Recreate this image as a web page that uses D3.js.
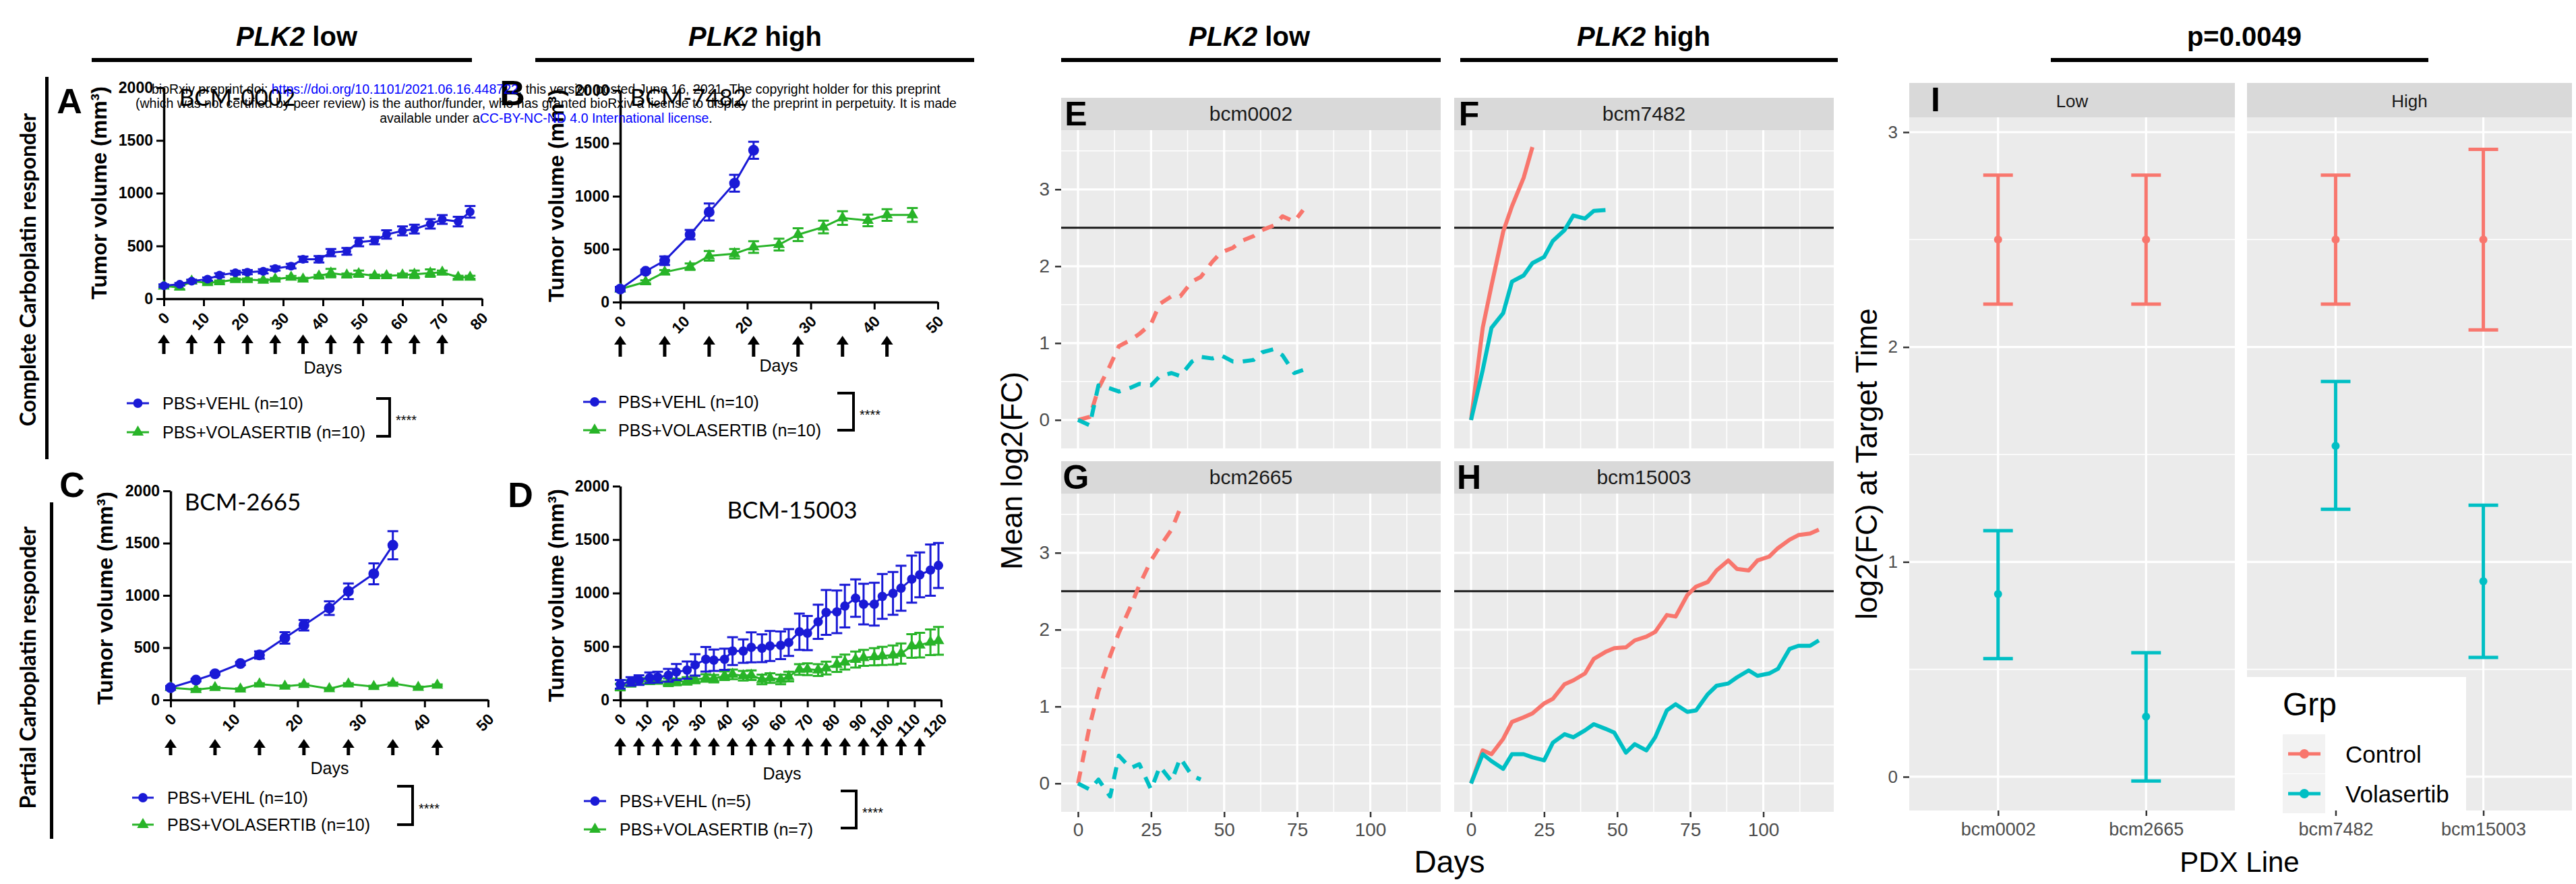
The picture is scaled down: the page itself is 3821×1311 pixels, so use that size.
<!DOCTYPE html>
<html>
<head>
<meta charset="utf-8">
<script src="https://cdn.jsdelivr.net/npm/d3@7"></script>
<style>
  body { margin: 0; background: #fff; }
  svg { display: block; }
</style>
</head>
<body>
<script>
// ---- tumour volume panels (GraphPad style) ----
const volumeTicks = [0, 500, 1000, 1500, 2000];

// A: BCM-0002
const daysA = [0, 4, 7, 11, 14, 18, 21, 25, 28, 32, 35, 39, 42, 46, 49, 53, 56, 60, 63, 67, 70, 74, 77];
const vehA = [123, 137, 166, 186, 223, 246, 251, 260, 286, 309, 374, 374, 437, 449, 537, 551, 609, 643, 660, 709, 751, 731, 823];
const vehAErr = [12, 12, 14, 15, 18, 18, 20, 20, 20, 22, 25, 30, 35, 32, 40, 35, 40, 42, 42, 45, 42, 45, 55];
const volA = [118, 109, 166, 151, 160, 180, 180, 174, 186, 203, 186, 214, 243, 223, 237, 217, 217, 223, 231, 243, 251, 203, 203];
const volAErr = [10, 20, 10, 12, 12, 10, 12, 10, 10, 12, 12, 12, 40, 15, 30, 12, 12, 15, 35, 35, 15, 15, 15];
const doseA = [0, 7, 14, 21, 28, 35, 42, 49, 56, 63, 70];

// B: BCM-7482
const daysBVeh = [0, 4, 7, 11, 14, 18, 21];
const vehB = [123, 291, 391, 637, 851, 1123, 1434];
const vehBErr = [20, 15, 40, 45, 80, 80, 80];
const daysBVol = [0, 4, 7, 11, 14, 18, 21, 25, 28, 32, 35, 39, 42, 46];
const volB = [123, 191, 283, 334, 437, 457, 520, 543, 637, 709, 794, 771, 823, 823];
const volBErr = [20, 15, 20, 30, 45, 45, 55, 55, 60, 60, 65, 55, 55, 65];
const doseB = [0, 7, 14, 21, 28, 35, 42];

// C: BCM-2665
const daysCVeh = [0, 4, 7, 11, 14, 18, 21, 25, 28, 32, 35];
const vehC = [117, 190, 250, 348, 430, 593, 715, 878, 1039, 1207, 1480];
const vehCErr = [15, 12, 12, 15, 35, 55, 50, 65, 75, 100, 135];
const daysCVol = [0, 4, 7, 11, 14, 18, 21, 25, 28, 32, 35, 39, 42];
const volC = [117, 98, 117, 103, 152, 130, 147, 106, 152, 128, 158, 120, 141];
const volCErr = [8, 8, 8, 8, 8, 8, 8, 8, 8, 8, 8, 8, 8];
const doseC = [0, 7, 14, 21, 28, 35, 42];

// D: BCM-15003
const daysD = [0, 4, 7, 11, 14, 18, 21, 25, 28, 32, 35, 39, 42, 46, 49, 53, 56, 60, 63, 67, 70, 74, 77, 81, 84, 88, 91, 95, 98, 102, 105, 109, 112, 116, 119];
const vehD = [146, 173, 186, 207, 213, 231, 261, 279, 327, 380, 372, 380, 457, 457, 492, 484, 505, 511, 537, 638, 625, 731, 819, 824, 878, 952, 896, 896, 968, 997, 1045, 1130, 1170, 1215, 1258];
const vehDErr = [40, 40, 45, 50, 50, 60, 75, 80, 100, 115, 100, 100, 130, 110, 140, 130, 140, 130, 125, 170, 160, 160, 210, 200, 200, 175, 190, 200, 210, 200, 210, 220, 210, 240, 210];
const volD = [120, 154, 173, 178, 181, 165, 168, 178, 191, 205, 199, 226, 239, 226, 231, 191, 205, 191, 218, 285, 287, 279, 298, 332, 354, 378, 394, 404, 412, 420, 434, 505, 513, 540, 553];
const volDErr = [30, 30, 30, 30, 30, 35, 30, 35, 35, 35, 35, 40, 45, 45, 45, 45, 45, 45, 45, 50, 55, 55, 60, 70, 70, 75, 75, 80, 85, 90, 95, 110, 115, 120, 130];
const doseD = [0, 7, 14, 21, 28, 35, 42, 49, 56, 63, 70, 77, 84, 91, 98, 105, 112];

// ---- mean log2(FC) panels (ggplot facets) ----
const ctrlE = [0, 0.04, 0.41, 0.71, 0.96, 1.04, 1.12, 1.25, 1.51, 1.61, 1.61, 1.80, 1.86, 2.06, 2.18, 2.24, 2.33, 2.39, 2.47, 2.53, 2.65, 2.58, 2.73];
const volE = [0, -0.07, 0.45, 0.41, 0.37, 0.42, 0.47, 0.45, 0.57, 0.61, 0.57, 0.76, 0.82, 0.80, 0.84, 0.76, 0.76, 0.78, 0.88, 0.92, 0.84, 0.61, 0.65];
const ctrlF = [0, 1.2, 1.75, 2.45, 2.78, 3.15, 3.55];
const volF = [0, 0.65, 1.2, 1.39, 1.8, 1.88, 2.04, 2.12, 2.33, 2.47, 2.66, 2.62, 2.72, 2.73];
const ctrlG = [0, 0.75, 1.2, 1.66, 1.96, 2.3, 2.58, 2.9, 3.08, 3.3, 3.58];
const volG = [0, -0.08, 0.05, -0.17, 0.36, 0.2, 0.25, -0.08, 0.22, 0.03, 0.33, 0.1, 0.05];
const ctrlH = [0, 0.43, 0.38, 0.58, 0.80, 0.86, 0.91, 1.04, 1.10, 1.29, 1.34, 1.43, 1.62, 1.71, 1.76, 1.77, 1.86, 1.91, 1.97, 2.19, 2.17, 2.45, 2.56, 2.62, 2.77, 2.90, 2.79, 2.77, 2.90, 2.95, 3.06, 3.17, 3.23, 3.25, 3.30];
const volH = [0, 0.38, 0.29, 0.19, 0.38, 0.38, 0.34, 0.30, 0.53, 0.64, 0.60, 0.69, 0.77, 0.71, 0.66, 0.40, 0.51, 0.43, 0.60, 0.95, 1.03, 0.93, 0.95, 1.16, 1.27, 1.30, 1.38, 1.47, 1.40, 1.43, 1.49, 1.75, 1.79, 1.79, 1.86];
const dayTicks = [0, 25, 50, 75, 100];
const fcTicks = [0, 1, 2, 3];
const targetFC = 2.5;

// ---- log2(FC) at target time (panel I) ----
const pdxLines = ['bcm0002', 'bcm2665', 'bcm7482', 'bcm15003'];
const plk2Group = ['Low', 'Low', 'High', 'High'];
const ctrlMean = [2.5, 2.5, 2.5, 2.5];
const ctrlLow = [2.2, 2.2, 2.2, 2.08];
const ctrlHigh = [2.8, 2.8, 2.8, 2.92];
const volMean = [0.85, 0.28, 1.54, 0.91];
const volLow = [0.55, -0.02, 1.245, 0.555];
const volHigh = [1.145, 0.577, 1.84, 1.264];
const groupNames = ['Control', 'Volasertib'];

const W = 3821, H = 1311;
const SANS = "'Liberation Sans', Arial, Helvetica, sans-serif";
const CALIBRI = "Lato, 'Open Sans', sans-serif";
const BLUE = '#1a1ad6', GREEN = '#28b428', RED = '#F8766D', CYAN = '#00BFC4';

const svg = d3.select('body').append('svg').attr('width', W).attr('height', H);
svg.append('rect').attr('width', W).attr('height', H).attr('fill', '#fff');

function label(g, x, y, s, size, o = {}) {
  return g.append('text')
    .attr('x', x).attr('y', y)
    .attr('font-family', o.family || SANS)
    .attr('font-size', size)
    .attr('font-weight', o.weight || 'normal')
    .attr('fill', o.fill || '#000')
    .attr('text-anchor', o.anchor || 'middle')
    .attr('dominant-baseline', o.baseline || 'central')
    .attr('transform', o.rotate ? `rotate(${o.rotate},${x},${y})` : null)
    .text(s);
}

// ---- headers ----
function header(cx, italic, rest, x1, x2) {
  const t = svg.append('text').attr('x', cx).attr('y', 54)
    .attr('font-family', SANS).attr('font-size', 40).attr('font-weight', 'bold')
    .attr('text-anchor', 'middle').attr('dominant-baseline', 'central');
  if (italic) t.append('tspan').attr('font-style', 'italic').text(italic);
  t.append('tspan').text(rest);
  svg.append('rect').attr('x', x1).attr('y', 86).attr('width', x2 - x1).attr('height', 6).attr('fill', '#000');
}
header(440, 'PLK2', ' low', 136, 700);
header(1120, 'PLK2', ' high', 794, 1445);
header(1853, 'PLK2', ' low', 1574, 2137);
header(2438, 'PLK2', ' high', 2166, 2726);
header(3329, null, 'p=0.0049', 3042, 3602);

// ---- row labels ----
label(svg, 40, 400, 'Complete Carboplatin responder', 32, { family: CALIBRI, weight: 'bold', rotate: -90 });
svg.append('rect').attr('x', 67).attr('y', 114).attr('width', 5).attr('height', 567).attr('fill', '#000');
label(svg, 40, 990, 'Partial Carboplatin responder', 32, { family: CALIBRI, weight: 'bold', rotate: -90 });
svg.append('rect').attr('x', 74).attr('y', 745).attr('width', 5).attr('height', 499).attr('fill', '#000');

// ---- GraphPad style panel ----
function prismPanel(o) {
  const g = svg.append('g');
  const x = d3.scaleLinear().domain([0, o.xMax]).range([o.left, o.right]);
  const y = d3.scaleLinear().domain([0, 2000]).range([o.bottom, o.top]);
  const xTicks = d3.range(0, o.xMax + 1, 10);

  const yAxis = g.append('g').attr('transform', `translate(${o.left},0)`)
    .call(d3.axisLeft(y).tickValues(volumeTicks).tickFormat(d3.format('d'))
      .tickSize(11).tickSizeOuter(0).tickPadding(5));
  const xAxis = g.append('g').attr('transform', `translate(0,${o.bottom})`)
    .call(d3.axisBottom(x).tickValues(xTicks).tickSize(11).tickSizeOuter(0).tickFormat(''));
  [yAxis, xAxis].forEach(a => {
    a.select('.domain').attr('stroke', '#000').attr('stroke-width', 3.5);
    a.selectAll('.tick line').attr('stroke', '#000').attr('stroke-width', 3);
  });
  yAxis.selectAll('.tick text')
    .attr('font-family', SANS).attr('font-size', 23).attr('font-weight', 'bold').attr('fill', '#000');

  g.selectAll(null).data(xTicks).join('text')
    .attr('transform', d => `translate(${x(d) + 10},${o.bottom + 30}) rotate(-45)`)
    .attr('text-anchor', 'end')
    .attr('font-family', SANS).attr('font-size', 23).attr('font-weight', 'bold')
    .text(d => d);

  // dosing arrows
  g.selectAll(null).data(o.dose).join('path')
    .attr('d', d => {
      const c = x(d), t = o.arrowTop, b = o.arrowBottom;
      return `M${c},${t}L${c + 9},${t + 13}L${c + 2.5},${t + 13}L${c + 2.5},${b}L${c - 2.5},${b}L${c - 2.5},${t + 13}L${c - 9},${t + 13}Z`;
    })
    .attr('fill', '#000');

  function series(days, vals, errs, color, shape) {
    const line = d3.line().x((d, i) => x(days[i])).y(d => y(d));
    g.append('path').datum(vals).attr('d', line)
      .attr('fill', 'none').attr('stroke', color).attr('stroke-width', 3);
    g.append('g').selectAll('path').data(vals).join('path')
      .attr('d', (v, i) => {
        const c = x(days[i]), y1 = y(v + errs[i]), y2 = y(v - errs[i]);
        return `M${c},${y1}V${y2}M${c - 8},${y1}H${c + 8}M${c - 8},${y2}H${c + 8}`;
      })
      .attr('fill', 'none').attr('stroke', color).attr('stroke-width', 3);
    const sym = shape === 'circle'
      ? d3.symbol(d3.symbolCircle, o.dot * o.dot * Math.PI)
      : d3.symbol(d3.symbolTriangle, 130);
    g.append('g').selectAll('path').data(vals).join('path')
      .attr('transform', (v, i) => `translate(${x(days[i])},${y(v)})`)
      .attr('d', sym).attr('fill', color);
  }
  series(o.volDays, o.vol, o.volErr, GREEN, 'triangle');
  series(o.vehDays, o.veh, o.vehErr, BLUE, 'circle');

  label(g, o.daysLabel[0], o.daysLabel[1], 'Days', 25);
  label(g, o.letter[0], o.letter[1], o.letter[2], 52, { weight: 'bold' });
  label(g, o.title[0], o.title[1], o.title[2], 35, { family: CALIBRI });
  label(g, o.yLabel[0], o.yLabel[1], 'Tumor volume (mm³)', 32, { weight: 'bold', rotate: -90 });

  // legend
  const items = [
    { text: o.vehText, color: BLUE, shape: d3.symbolCircle, size: 150 },
    { text: o.volText, color: GREEN, shape: d3.symbolTriangle, size: 130 }
  ];
  items.forEach((it, i) => {
    const ly = o.legY[i];
    g.append('line').attr('x1', o.legX[0]).attr('x2', o.legX[1]).attr('y1', ly).attr('y2', ly)
      .attr('stroke', it.color).attr('stroke-width', 3);
    g.append('path').attr('transform', `translate(${(o.legX[0] + o.legX[1]) / 2},${ly})`)
      .attr('d', d3.symbol(it.shape, it.size)).attr('fill', it.color);
    label(g, o.legX[2], ly, it.text, 25, { anchor: 'start' });
  });
  const [bx1, bx2, by1, by2] = o.bracket;
  g.append('path').attr('d', `M${bx1},${by1}H${bx2}V${by2}H${bx1}`)
    .attr('fill', 'none').attr('stroke', '#000').attr('stroke-width', 4);
  label(g, bx2 + 9, (by1 + by2) / 2 + 4, '****', 20, { anchor: 'start' });
}

prismPanel({
  left: 243, right: 715, top: 130, bottom: 443, xMax: 80, dot: 6.5,
  vehDays: daysA, veh: vehA, vehErr: vehAErr, volDays: daysA, vol: volA, volErr: volAErr,
  dose: doseA, arrowTop: 496, arrowBottom: 525,
  daysLabel: [479, 545], letter: [103, 150, 'A'], title: [352, 143, 'BCM-0002'], yLabel: [147, 286],
  vehText: 'PBS+VEHL (n=10)', volText: 'PBS+VOLASERTIB (n=10)',
  legX: [188, 221, 241], legY: [598, 641], bracket: [558, 578, 591, 647]
});
prismPanel({
  left: 920, right: 1391, top: 134, bottom: 448, xMax: 50, dot: 8,
  vehDays: daysBVeh, veh: vehB, vehErr: vehBErr, volDays: daysBVol, vol: volB, volErr: volBErr,
  dose: doseB, arrowTop: 498, arrowBottom: 529,
  daysLabel: [1155, 542], letter: [760, 138, 'B'], title: [1021, 143, 'BCM-7482'], yLabel: [825, 290],
  vehText: 'PBS+VEHL (n=10)', volText: 'PBS+VOLASERTIB (n=10)',
  legX: [865, 899, 917], legY: [596, 638], bracket: [1242, 1266, 583, 638]
});
prismPanel({
  left: 253, right: 724, top: 728, bottom: 1038, xMax: 50, dot: 8,
  vehDays: daysCVeh, veh: vehC, vehErr: vehCErr, volDays: daysCVol, vol: volC, volErr: volCErr,
  dose: doseC, arrowTop: 1096, arrowBottom: 1120,
  daysLabel: [489, 1139], letter: [107, 719, 'C'], title: [360, 743, 'BCM-2665'], yLabel: [156, 887],
  vehText: 'PBS+VEHL (n=10)', volText: 'PBS+VOLASERTIB (n=10)',
  legX: [196, 228, 248], legY: [1183, 1223], bracket: [589, 612, 1166, 1223]
});
prismPanel({
  left: 920, right: 1396, top: 721, bottom: 1038, xMax: 120, dot: 7,
  vehDays: daysD, veh: vehD, vehErr: vehDErr, volDays: daysD, vol: volD, volErr: volDErr,
  dose: doseD, arrowTop: 1094, arrowBottom: 1120,
  daysLabel: [1160, 1147], letter: [772, 734, 'D'], title: [1175, 755, 'BCM-15003'], yLabel: [825, 883],
  vehText: 'PBS+VEHL (n=5)', volText: 'PBS+VOLASERTIB (n=7)',
  legX: [866, 899, 919], legY: [1188, 1230], bracket: [1247, 1270, 1173, 1228]
});

// ---- bioRxiv watermark ----
const wm = svg.append('g').attr('font-family', SANS).attr('font-size', 19.5).attr('text-anchor', 'middle');
const wl1 = wm.append('text').attr('x', 810).attr('y', 139);
wl1.append('tspan').text('bioRxiv preprint doi: ');
wl1.append('tspan').attr('fill', '#0000ff').text('https://doi.org/10.1101/2021.06.16.448722');
wl1.append('tspan').text('; this version posted June 16, 2021. The copyright holder for this preprint');
wm.append('text').attr('x', 810).attr('y', 160)
  .text('(which was not certified by peer review) is the author/funder, who has granted bioRxiv a license to display the preprint in perpetuity. It is made');
const wl3 = wm.append('text').attr('x', 810).attr('y', 182);
wl3.append('tspan').text('available under a');
wl3.append('tspan').attr('fill', '#0000ff').text('CC-BY-NC-ND 4.0 International license');
wl3.append('tspan').text('.');

// ---- ggplot style facets E-H ----
const FACET_W = 563;
const dayDomain = [-5.77, 124.1];
const fcDomain = [-0.37, 3.77];

function facetPanel(o) {
  const g = svg.append('g');
  const x = d3.scaleLinear().domain(dayDomain).range([o.left, o.left + FACET_W]);
  const y = d3.scaleLinear().domain(fcDomain).range([o.bottom, o.top]);
  g.append('rect').attr('x', o.left).attr('y', o.top)
    .attr('width', FACET_W).attr('height', o.bottom - o.top).attr('fill', '#EBEBEB');

  const grid = (vals, vertical, width) => g.selectAll(null).data(vals).join('line')
    .attr('x1', d => vertical ? x(d) : o.left).attr('x2', d => vertical ? x(d) : o.left + FACET_W)
    .attr('y1', d => vertical ? o.top : y(d)).attr('y2', d => vertical ? o.bottom : y(d))
    .attr('stroke', '#fff').attr('stroke-width', width);
  grid(dayTicks.map(d => d + 12.5), true, 1.6);
  grid(fcTicks.map(d => d + 0.5), false, 1.6);
  grid(dayTicks, true, 3.2);
  grid(fcTicks, false, 3.2);

  g.append('rect').attr('x', o.left).attr('y', o.top - 48).attr('width', FACET_W).attr('height', 48).attr('fill', '#D9D9D9');
  label(g, o.left + FACET_W / 2, o.top - 25, o.strip, 30, { fill: '#1a1a1a' });
  label(g, o.left + 22, o.top - 24, o.letter, 50, { weight: 'bold' });

  g.append('line').attr('x1', o.left).attr('x2', o.left + FACET_W)
    .attr('y1', y(targetFC)).attr('y2', y(targetFC))
    .attr('stroke', '#1a1a1a').attr('stroke-width', 3);

  [[o.ctrlDays, o.ctrl, RED], [o.volDays, o.vol, CYAN]].forEach(([days, vals, color]) => {
    const line = d3.line().x((d, i) => x(days[i])).y(d => y(d));
    g.append('path').datum(vals).attr('d', line)
      .attr('fill', 'none').attr('stroke', color).attr('stroke-width', 6)
      .attr('stroke-linejoin', 'round')
      .attr('stroke-dasharray', o.dashed ? '18,14' : null);
  });

  if (o.yAxis) {
    const ya = g.append('g').attr('transform', `translate(${o.left},0)`)
      .call(d3.axisLeft(y).tickValues(fcTicks).tickSize(9).tickPadding(8).tickFormat(d3.format('d')));
    ya.select('.domain').remove();
    ya.selectAll('.tick line').attr('stroke', '#333').attr('stroke-width', 2.5);
    ya.selectAll('.tick text').attr('font-family', SANS).attr('font-size', 28).attr('fill', '#4D4D4D');
  }
  if (o.xAxis) {
    const xa = g.append('g').attr('transform', `translate(0,${o.bottom})`)
      .call(d3.axisBottom(x).tickValues(dayTicks).tickSize(8).tickPadding(8));
    xa.select('.domain').remove();
    xa.selectAll('.tick line').attr('stroke', '#333').attr('stroke-width', 2.5);
    xa.selectAll('.tick text').attr('font-family', SANS).attr('font-size', 28).attr('fill', '#4D4D4D');
  }
}

facetPanel({ left: 1574, top: 193, bottom: 665, strip: 'bcm0002', letter: 'E', ctrlDays: daysA, ctrl: ctrlE, volDays: daysA, vol: volE, dashed: true, yAxis: true });
facetPanel({ left: 2157, top: 193, bottom: 665, strip: 'bcm7482', letter: 'F', ctrlDays: daysBVeh, ctrl: ctrlF, volDays: daysBVol, vol: volF, dashed: false });
facetPanel({ left: 1574, top: 732, bottom: 1204, strip: 'bcm2665', letter: 'G', ctrlDays: daysCVeh, ctrl: ctrlG, volDays: daysCVol, vol: volG, dashed: true, yAxis: true, xAxis: true });
facetPanel({ left: 2157, top: 732, bottom: 1204, strip: 'bcm15003', letter: 'H', ctrlDays: daysD, ctrl: ctrlH, volDays: daysD, vol: volH, dashed: false, xAxis: true });

label(svg, 1500, 698, 'Mean log2(FC)', 44, { rotate: -90 });
label(svg, 2150, 1278, 'Days', 46);

// ---- panel I ----
const iTop = 174, iBottom = 1202;
const yI = d3.scaleLinear().domain([-0.157, 3.069]).range([iBottom, iTop]);
const iFacets = [{ name: 'Low', left: 2832, right: 3315 }, { name: 'High', left: 3333, right: 3815 }];
iFacets.forEach((f, fi) => {
  const g = svg.append('g');
  const idx = plk2Group.map((p, i) => p === f.name ? i : -1).filter(i => i >= 0);
  const x = d3.scalePoint().domain(idx.map(i => pdxLines[i])).range([f.left, f.right]).padding(0.6);
  g.append('rect').attr('x', f.left).attr('y', iTop)
    .attr('width', f.right - f.left).attr('height', iBottom - iTop).attr('fill', '#EBEBEB');
  g.selectAll(null).data([0.5, 1.5, 2.5]).join('line')
    .attr('x1', f.left).attr('x2', f.right).attr('y1', d => yI(d)).attr('y2', d => yI(d))
    .attr('stroke', '#fff').attr('stroke-width', 1.6);
  g.selectAll(null).data(fcTicks).join('line')
    .attr('x1', f.left).attr('x2', f.right).attr('y1', d => yI(d)).attr('y2', d => yI(d))
    .attr('stroke', '#fff').attr('stroke-width', 3.2);
  g.selectAll(null).data(x.domain()).join('line')
    .attr('x1', d => x(d)).attr('x2', d => x(d)).attr('y1', iTop).attr('y2', iBottom)
    .attr('stroke', '#fff').attr('stroke-width', 3.2);
  g.append('rect').attr('x', f.left).attr('y', iTop - 51)
    .attr('width', f.right - f.left).attr('height', 51).attr('fill', '#D9D9D9');
  label(g, (f.left + f.right) / 2, iTop - 24, f.name, 26, { fill: '#1a1a1a' });

  const groups = [
    { mean: ctrlMean, lo: ctrlLow, hi: ctrlHigh, color: RED },
    { mean: volMean, lo: volLow, hi: volHigh, color: CYAN }
  ];
  groups.forEach(gr => {
    g.append('g').selectAll('path').data(idx).join('path')
      .attr('d', i => {
        const c = x(pdxLines[i]), y1 = yI(gr.hi[i]), y2 = yI(gr.lo[i]);
        return `M${c},${y1}V${y2}M${c - 22},${y1}H${c + 22}M${c - 22},${y2}H${c + 22}`;
      })
      .attr('fill', 'none').attr('stroke', gr.color).attr('stroke-width', 5);
    g.append('g').selectAll('circle').data(idx).join('circle')
      .attr('cx', i => x(pdxLines[i])).attr('cy', i => yI(gr.mean[i])).attr('r', 6)
      .attr('fill', gr.color);
  });

  const xa = g.append('g').attr('transform', `translate(0,${iBottom})`)
    .call(d3.axisBottom(x).tickSize(8).tickPadding(10));
  xa.select('.domain').remove();
  xa.selectAll('.tick line').attr('stroke', '#333').attr('stroke-width', 2.5);
  xa.selectAll('.tick text').attr('font-family', SANS).attr('font-size', 27).attr('fill', '#4D4D4D');

  if (fi === 0) {
    const ya = g.append('g').attr('transform', `translate(${f.left},0)`)
      .call(d3.axisLeft(yI).tickValues(fcTicks).tickSize(9).tickPadding(8).tickFormat(d3.format('d')));
    ya.select('.domain').remove();
    ya.selectAll('.tick line').attr('stroke', '#333').attr('stroke-width', 2.5);
    ya.selectAll('.tick text').attr('font-family', SANS).attr('font-size', 26).attr('fill', '#4D4D4D');
    label(g, f.left + 39, iTop - 26, 'I', 50, { weight: 'bold' });
  }
});
label(svg, 2768, 688, 'log2(FC) at Target Time', 44, { rotate: -90 });
label(svg, 3322, 1278, 'PDX Line', 42);

// legend for panel I
const lg = svg.append('g');
lg.append('rect').attr('x', 3333).attr('y', 1004).attr('width', 325).attr('height', 198).attr('fill', '#fff');
label(lg, 3386, 1044, 'Grp', 48, { anchor: 'start' });
const keyColors = [RED, CYAN];
groupNames.forEach((name, i) => {
  const cy = 1118 + i * 59;
  lg.append('rect').attr('x', 3386).attr('y', cy - 29).attr('width', 63).attr('height', 58).attr('fill', '#F2F2F2');
  lg.append('line').attr('x1', 3394).attr('x2', 3442).attr('y1', cy).attr('y2', cy)
    .attr('stroke', keyColors[i]).attr('stroke-width', 5);
  lg.append('circle').attr('cx', 3418).attr('cy', cy).attr('r', 7).attr('fill', keyColors[i]);
  label(lg, 3479, cy, name, 35, { anchor: 'start' });
});
</script>
</body>
</html>
